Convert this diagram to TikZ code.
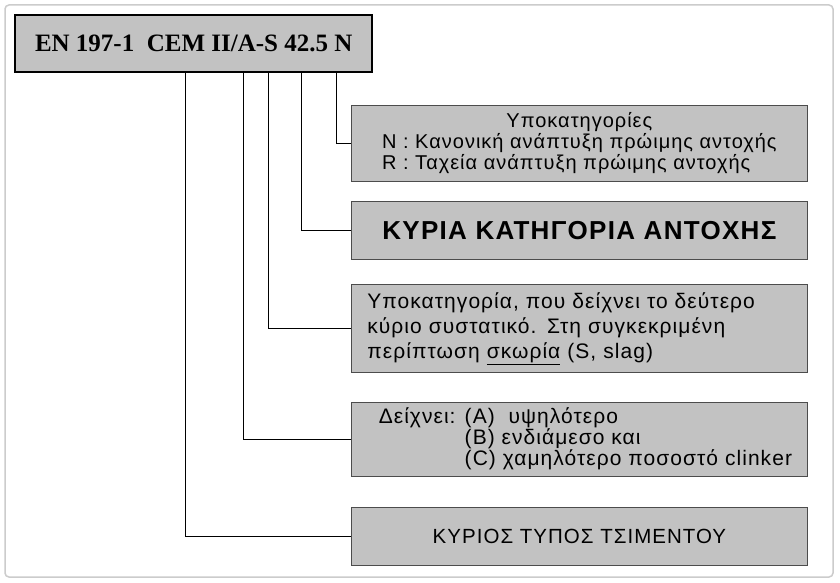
\documentclass[tikz,border=0pt]{standalone}
\usepackage{fontspec}
\setmainfont{Liberation Sans}[LetterSpace=5]
\newfontfamily\serifb{Liberation Serif}
\begin{document}
\begin{tikzpicture}[x=1pt,y=-1pt,
  infobox/.style={draw=black!70,line width=0.8pt,fill=black!24,minimum width=456pt,anchor=north west,inner sep=0pt,font=\fontsize{20}{23}\selectfont},
  conn/.style={draw=black,line width=0.8pt}]
\useasboundingbox (0,0) rectangle (840,583);
\fill[white] (0,0) rectangle (840,583);
\draw[black!20,line width=1.5pt,rounded corners=4pt] (5,5) rectangle (833,577);
\node[draw=black,line width=2.4pt,fill=black!24,anchor=north west,minimum width=357pt,minimum height=57pt,inner sep=0pt,font=\serifb\bfseries\fontsize{25}{28}\selectfont] (top) at (14,14) {EN 197-1\ \ CEM II/A-S 42.5 N};
\node[infobox,minimum height=76pt] (b1) at (351,105) {\begin{tabular}{@{}l@{}}\multicolumn{1}{c}{Υποκατηγορίες}\\[-2pt] N : Κανονική ανάπτυξη πρώιμης αντοχής\\[-2pt] R : Ταχεία ανάπτυξη πρώιμης αντοχής\end{tabular}};
\node[infobox,minimum height=58pt,font=\bfseries\fontsize{26}{30}\selectfont] (b2) at (351,201) {ΚΥΡΙΑ ΚΑΤΗΓΟΡΙΑ ΑΝΤΟΧΗΣ};
\node[infobox,minimum height=88pt,text width=424pt,align=left,font=\fontsize{21}{25}\selectfont] (b3) at (351,284) {Υποκατηγορία, που δείχνει το δεύτερο\\ κύριο συστατικό. Στη συγκεκριμένη\\ περίπτωση \underline{σκωρία} (S, slag)};
\node[infobox,minimum height=74pt,font=\fontsize{21}{23}\selectfont] (b4) at (351,402) {\hspace*{12pt}\begin{tabular}{@{}l@{ }l@{}}Δείχνει: & (A)\ \ υψηλότερο\\[-2pt] & (B) ενδιάμεσο και\\[-2pt] & (C) χαμηλότερο ποσοστό clinker\end{tabular}};
\node[infobox,minimum height=58pt,font=\fontsize{20.5}{24}\selectfont] (b5) at (351,507) {ΚΥΡΙΟΣ ΤΥΠΟΣ ΤΣΙΜΕΝΤΟΥ};
\coordinate (c1) at (336,72); \coordinate (c2) at (301,72); \coordinate (c3) at (268,72);
\coordinate (c4) at (243,72); \coordinate (c5) at (185,72);
\draw[conn] (c1) |- (b1.west);
\draw[conn] (c2) |- (b2.west);
\draw[conn] (c3) |- (b3.west);
\draw[conn] (c4) |- (b4.west);
\draw[conn] (c5) |- (b5.west);
\end{tikzpicture}
\end{document}
